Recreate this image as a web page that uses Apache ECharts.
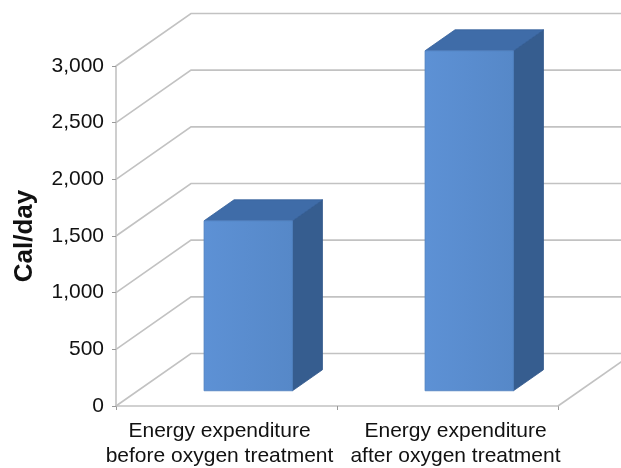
<!DOCTYPE html>
<html>
<head>
<meta charset="utf-8">
<script src="https://cdn.jsdelivr.net/npm/echarts@6/dist/echarts.min.js"></script>
<style>
html, body { margin: 0; padding: 0; background: #fff; }
#main { width: 621px; height: 468px; }
</style>
</head>
<body>
<div id="main"></div>
<script>
var categories = ['Energy expenditure\nbefore oxygen treatment', 'Energy expenditure\nafter oxygen treatment'];
var values = [1500, 3000];
var yTicks = [0, 500, 1000, 1500, 2000, 2500, 3000];

// depth vector of the 3d box (px) and bar placement inside the depth
var DX = 75, DY = -52.5;
var BAR_FRONT = 0.29, BAR_DEPTH = 0.4, BAR_WIDTH = 0.4;
var wallColor = '#c2c2c2';
var font = 'Liberation Sans, Arial, sans-serif';

var chart = echarts.init(document.getElementById('main'));

function renderWall(params, api) {
	var cs = params.coordSys;
	var v = api.value(0);
	var y = api.coord([0, v])[1];
	var left = cs.x;
	var right = cs.x + cs.width;
	var children = [{
		type: 'polyline',
		shape: { points: [[left, y], [left + DX, y + DY], [api.getWidth() + 5, y + DY]] },
		style: { stroke: wallColor, lineWidth: 1.6, fill: null }
	}];
	if (v === 0) {
		// right edge of the floor
		children.push({
			type: 'line',
			shape: { x1: right, y1: y, x2: right + DX, y2: y + DY },
			style: { stroke: wallColor, lineWidth: 1.6 }
		});
	}
	return { type: 'group', children: children };
}

function renderBar(params, api) {
	var idx = api.value(0);
	var base = api.coord([idx, 0]);
	var top = api.coord([idx, api.value(1)]);
	var band = api.size([1, 0])[0];
	var w = band * BAR_WIDTH;
	var x0 = base[0] + BAR_FRONT * DX - w / 2;
	var x1 = x0 + w;
	var yb = base[1] + BAR_FRONT * DY;
	var yt = top[1] + BAR_FRONT * DY;
	var dx = BAR_DEPTH * DX, dy = BAR_DEPTH * DY;
	return {
		type: 'group',
		children: [
			{
				type: 'polygon',
				shape: { points: [[x1, yt], [x1 + dx, yt + dy], [x1 + dx, yb + dy], [x1, yb]] },
				style: { fill: '#365d8f', stroke: '#30558a', lineWidth: 0.8 }
			},
			{
				type: 'polygon',
				shape: { points: [[x0, yt], [x1, yt], [x1 + dx, yt + dy], [x0 + dx, yt + dy]] },
				style: { fill: '#3f6ca8', stroke: '#34609a', lineWidth: 0.8 }
			},
			{
				type: 'rect',
				shape: { x: x0, y: yt, width: w, height: yb - yt },
				style: {
					fill: new echarts.graphic.LinearGradient(0, 0, 1, 0, [
						{ offset: 0, color: '#5d91d5' },
						{ offset: 1, color: '#5688c8' }
					]),
					stroke: '#4f80bf',
					lineWidth: 0.8
				}
			}
		]
	};
}

var option = {
	backgroundColor: '#ffffff',
	animation: false,
	grid: {
		left: 116,
		right: 63,
		top: 66,
		bottom: 62,
		containLabel: false,
		outerBoundsMode: 'none'
	},
	xAxis: {
		type: 'category',
		data: categories,
		axisLine: { show: true, lineStyle: { color: wallColor, width: 1.6 } },
		axisTick: { show: true, length: 4, lineStyle: { color: '#999' } },
		splitLine: { show: false },
		axisLabel: {
			margin: 13,
			interval: 0,
			formatter: function (value, index) {
				var key = index === 0 ? 'a' : 'b';
				return value.split('\n').map(function (s) {
					return '{' + key + '|' + s + '}';
				}).join('\n');
			},
			rich: {
				a: { fontSize: 21, fontFamily: font, color: '#111', lineHeight: 25, padding: [0, 14, 0, 0] },
				b: { fontSize: 21, fontFamily: font, color: '#111', lineHeight: 25, padding: [0, 0, 0, 16] }
			}
		}
	},
	yAxis: {
		type: 'value',
		min: 0,
		max: 3000,
		interval: 500,
		name: 'Cal/day',
		nameLocation: 'middle',
		nameGap: 78,
		nameTextStyle: { fontSize: 26, fontWeight: 'bold', fontFamily: font, color: '#111' },
		axisLine: { show: true, lineStyle: { color: wallColor, width: 1.6 } },
		axisTick: { show: true, length: 4, lineStyle: { color: '#999' } },
		splitLine: { show: false },
		axisLabel: {
			margin: 12,
			fontSize: 21,
			fontFamily: font,
			color: '#111',
			formatter: function (v) {
				return v.toLocaleString('en-US');
			}
		}
	},
	series: [
		{
			type: 'custom',
			name: 'walls',
			clip: false,
			silent: true,
			z: 1,
			data: yTicks.map(function (v) { return [v]; }),
			renderItem: renderWall
		},
		{
			type: 'custom',
			name: 'Cal/day',
			clip: false,
			z: 3,
			encode: { x: 0, y: 1 },
			data: values.map(function (v, i) { return [i, v]; }),
			renderItem: renderBar
		}
	]
};
chart.setOption(option);
</script>
</body>
</html>
